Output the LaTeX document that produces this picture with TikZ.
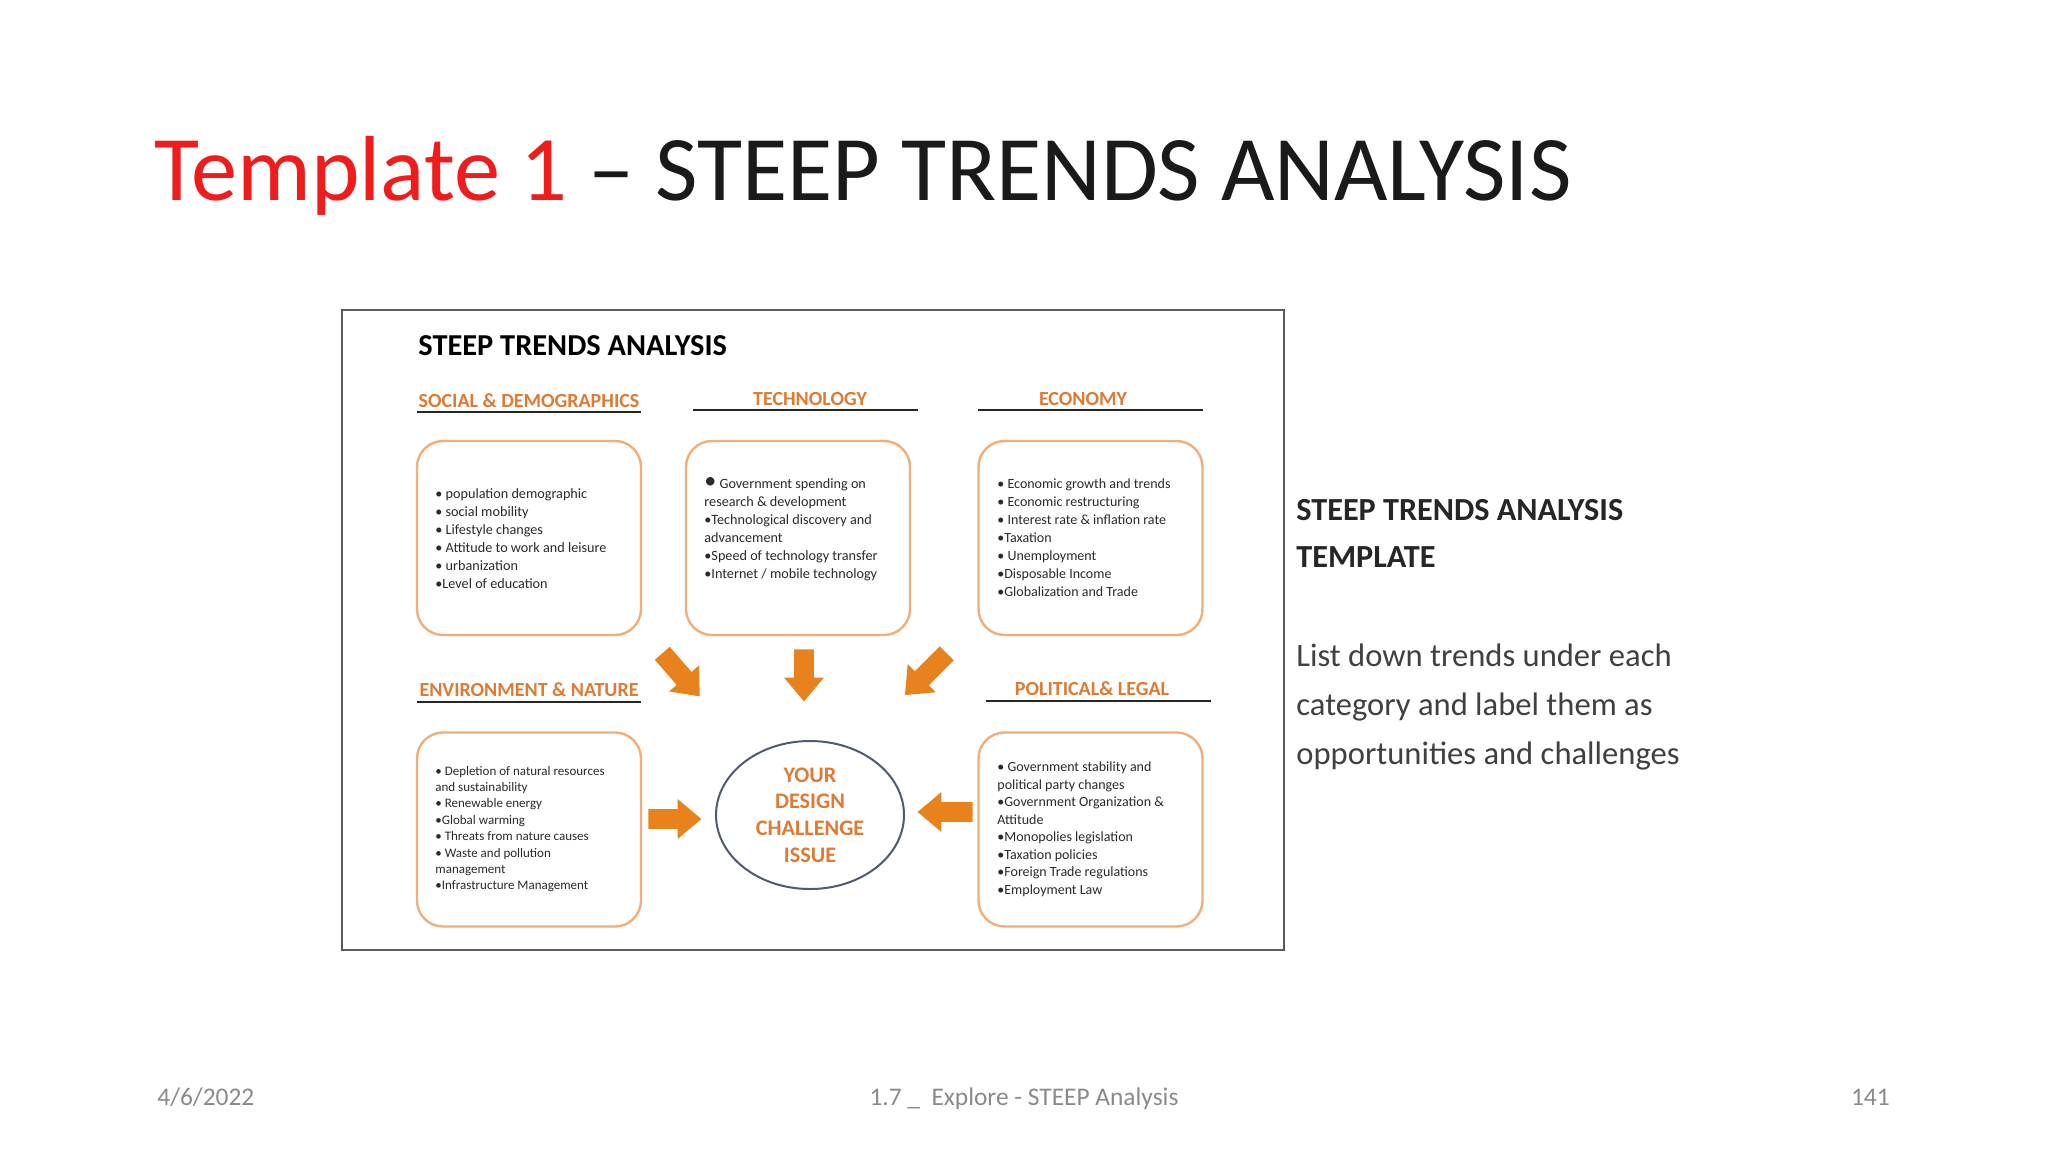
\documentclass[tikz,border=0pt]{standalone}
\usepackage{fontspec}
\setmainfont{Carlito}
\usetikzlibrary{shapes.arrows,shapes.geometric}
\definecolor{titlered}{HTML}{EE1C1C}
\definecolor{titleblack}{HTML}{1A1A1A}
\definecolor{hdrorange}{HTML}{E07A32}
\definecolor{arroworange}{HTML}{E8821C}
\definecolor{boxorange}{HTML}{F2AE78}
\definecolor{ellblue}{HTML}{4F5B6E}
\definecolor{bodytext}{HTML}{2A2A2A}
\definecolor{footgray}{HTML}{8A8A8A}
\definecolor{framegray}{HTML}{5A5A5A}
\begin{document}
\begin{tikzpicture}[x=0.5pt,y=-0.5pt,
  catbox/.style={draw=boxorange, line width=1.2pt, rounded corners=13pt, fill=white,
    minimum width=112pt, minimum height=97pt, inner sep=0pt},
  boxtext/.style={anchor=west, align=left, inner sep=0pt, text=bodytext},
  hdr/.style={anchor=base, inner sep=0pt, text=hdrorange, font=\fontsize{10}{11}\selectfont\bfseries},
  uline/.style={draw=black!85, line width=1pt},
  blockarrow/.style={single arrow, fill=arroworange, draw=none, inner xsep=0pt, inner ysep=4.75pt,
    single arrow head extend=5pt, single arrow tip angle=80, anchor=tail},
  foot/.style={anchor=base, inner sep=0pt, text=footgray, font=\fontsize{12.7}{14}\selectfont}]
\useasboundingbox[fill=white] (0,0) rectangle (2048,1152);

% title
\node[anchor=base west, inner sep=0pt, text=titleblack, font=\fontsize{46.2}{50}\selectfont] (title) at (154,200)
  {\textcolor{titlered}{Template 1} – STEEP TRENDS ANALYSIS};

% diagram frame
\node[draw=framegray, line width=1pt, fill=white, minimum width=471pt, minimum height=320pt, inner sep=0pt] (frame) at (813,630) {};

\node[anchor=base west, inner sep=0pt, font=\fontsize{15.2}{17}\selectfont\bfseries] (sub) at (418,355) {STEEP TRENDS ANALYSIS};

% headers
\node[hdr] (hsoc) at (529,407) {SOCIAL \& DEMOGRAPHICS};
\draw[uline] (417,412) -- (641,412);
\node[hdr] (htec) at (810,405) {TECHNOLOGY};
\draw[uline] (693,410) -- (918,410);
\node[hdr] (heco) at (1083,405) {ECONOMY};
\draw[uline] (978,410) -- (1203,410);
\node[hdr] (henv) at (529,696) {ENVIRONMENT \& NATURE};
\draw[uline] (417,702) -- (641,702);
\node[hdr] (hpol) at (1092,695) {POLITICAL\& LEGAL};
\draw[uline] (986,701) -- (1211,701);

% boxes
\node[catbox] (soc) at (529,538) {};
\node[catbox] (tec) at (798,538) {};
\node[catbox] (eco) at (1090.5,538) {};
\node[catbox] (env) at (529,829.5) {};
\node[catbox] (pol) at (1090.5,829.5) {};

\node[boxtext, font=\fontsize{7.1}{9}\selectfont] (tsoc) at (435,539) {%
• population demographic\\
• social mobility\\
• Lifestyle changes\\
• Attitude to work and leisure\\
• urbanization\\
•Level of education};

\node[boxtext, font=\fontsize{7.1}{9}\selectfont] (ttec) at (704,529) {%
{\large•} Government spending on\\
research \& development\\
•Technological discovery and\\
advancement\\
•Speed of technology transfer\\
•Internet / mobile technology};

\node[boxtext, font=\fontsize{7.0}{9}\selectfont] (teco) at (997,538) {%
• Economic growth and trends\\
• Economic restructuring\\
• Interest rate \& inflation rate\\
•Taxation\\
• Unemployment\\
•Disposable Income\\
•Globalization and Trade};

\node[boxtext, font=\fontsize{6.5}{8.2}\selectfont] (tenv) at (435,829) {%
• Depletion of natural resources\\
and sustainability\\
• Renewable energy\\
•Global warming\\
• Threats from nature causes\\
• Waste and pollution\\
management\\
•Infrastructure Management};

\node[boxtext, font=\fontsize{7.0}{8.75}\selectfont] (tpol) at (997,829) {%
• Government stability and\\
political party changes\\
•Government Organization \&\\
Attitude\\
•Monopolies legislation\\
•Taxation policies\\
•Foreign Trade regulations\\
•Employment Law};

% centre ellipse
\node[ellipse, draw=ellblue, line width=1pt, minimum width=94pt, minimum height=74pt, inner sep=0pt] (issue) at (810,815) {};
\node[align=center, inner sep=0pt, text=hdrorange, font=\fontsize{11.1}{13.3}\selectfont\bfseries] (issuetext) at (810,815)
  {YOUR\\DESIGN\\CHALLENGE\\ISSUE};

% block arrows
\node[blockarrow, rotate=-49, minimum height=28.5pt] (a1) at (662,653) {};
\node[blockarrow, rotate=-90, minimum height=26pt] (a2) at (804,649) {};
\node[blockarrow, rotate=-135, minimum height=29.5pt] (a3) at (947,653) {};
\node[blockarrow, rotate=0, minimum height=26.5pt] (a4) at (648,819) {};
\node[blockarrow, rotate=180, minimum height=27.5pt] (a5) at (973,812) {};

% right-hand text
\node[anchor=base west, inner sep=0pt, text=black!85, font=\fontsize{16.1}{18}\selectfont\bfseries] (rt1) at (1296,520) {STEEP TRENDS ANALYSIS};
\node[anchor=base west, inner sep=0pt, text=black!85, font=\fontsize{16.1}{18}\selectfont\bfseries] (rt2) at (1296,567) {TEMPLATE};
\node[anchor=base west, inner sep=0pt, text=black!75, font=\fontsize{16.3}{24.5}\selectfont] (rt3) at (1296,666)
  {List down trends under each};
\node[anchor=base west, inner sep=0pt, text=black!75, font=\fontsize{16.3}{24.5}\selectfont] (rt4) at (1296,715)
  {category and label them as};
\node[anchor=base west, inner sep=0pt, text=black!75, font=\fontsize{16.3}{24.5}\selectfont] (rt5) at (1296,764)
  {opportunities and challenges};

% footer
\node[foot, anchor=base west] (date) at (157,1105) {4/6/2022};
\node[foot] (ftitle) at (1024,1105) {1.7 \_ \ Explore - STEEP Analysis};
\node[foot, anchor=base east] (page) at (1890,1105) {141};
\end{tikzpicture}
\end{document}
